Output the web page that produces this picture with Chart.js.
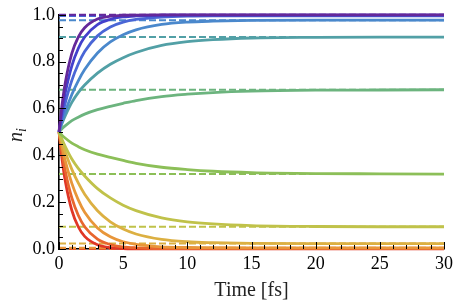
<!DOCTYPE html>
<html>
<head>
<meta charset="utf-8">
<script src="https://cdn.jsdelivr.net/npm/chart.js@4"></script>
<style>
  html, body { margin: 0; padding: 0; background: #fff; }
  #wrap { width: 457px; height: 307px; }
</style>
</head>
<body>
<div id="wrap"><canvas id="popChart"></canvas></div>
<script>
// time grid (fs) and the populations
const times = [0, 0.25, 0.5, 1, 1.5, 2, 3, 4, 5, 6, 8, 10, 12, 15, 20, 25, 30];

const nPurple     = [0.5, 0.621, 0.713, 0.835, 0.905, 0.945, 0.982, 0.994, 0.998, 0.999, 0.9996, 0.9997, 0.9997, 0.9997, 0.9997, 0.9997, 0.9997];
const nDarkBlue   = [0.5, 0.594, 0.670, 0.782, 0.856, 0.905, 0.958, 0.981, 0.991, 0.995, 0.998, 0.9988, 0.9988, 0.9988, 0.9988, 0.9988, 0.9988];
const nBlue       = [0.5, 0.568, 0.626, 0.720, 0.790, 0.843, 0.910, 0.948, 0.969, 0.980, 0.990, 0.994, 0.995, 0.995, 0.995, 0.995, 0.995];
const nSteel      = [0.5, 0.546, 0.588, 0.660, 0.718, 0.766, 0.837, 0.884, 0.915, 0.936, 0.959, 0.969, 0.973, 0.976, 0.977, 0.977, 0.977];
const nTeal       = [0.5, 0.538, 0.570, 0.626, 0.668, 0.700, 0.751, 0.789, 0.817, 0.839, 0.869, 0.885, 0.894, 0.901, 0.904, 0.905, 0.905];
const nGreen      = [0.5, 0.515, 0.527, 0.548, 0.563, 0.576, 0.595, 0.609, 0.622, 0.634, 0.651, 0.661, 0.668, 0.674, 0.678, 0.679, 0.680];
const nLightGreen = [0.5, 0.485, 0.473, 0.452, 0.437, 0.424, 0.405, 0.391, 0.378, 0.366, 0.349, 0.339, 0.332, 0.326, 0.322, 0.321, 0.320];
const nOlive      = [0.5, 0.466, 0.436, 0.384, 0.344, 0.312, 0.258, 0.218, 0.187, 0.164, 0.133, 0.116, 0.107, 0.100, 0.096, 0.095, 0.095];
const nYellow     = [0.5, 0.454, 0.412, 0.340, 0.282, 0.234, 0.163, 0.116, 0.085, 0.064, 0.041, 0.031, 0.027, 0.024, 0.023, 0.023, 0.023];
const nOrange     = [0.5, 0.432, 0.374, 0.280, 0.210, 0.157, 0.090, 0.052, 0.031, 0.020, 0.0095, 0.0064, 0.0054, 0.005, 0.005, 0.005, 0.005];
const nOrangeRed  = [0.5, 0.406, 0.330, 0.218, 0.144, 0.095, 0.042, 0.019, 0.009, 0.005, 0.0018, 0.0013, 0.0012, 0.0012, 0.0012, 0.0012, 0.0012];
const nRed        = [0.5, 0.379, 0.287, 0.165, 0.095, 0.054, 0.018, 0.006, 0.002, 0.001, 0.0004, 0.0003, 0.0003, 0.0003, 0.0003, 0.0003, 0.0003];

// equilibrium values (dashed lines)
const eqLevels = [0.9997, 0.9988, 0.995, 0.977, 0.905, 0.68, 0.32, 0.095, 0.023, 0.005, 0.0012, 0.0003];

const curves = [nPurple, nDarkBlue, nBlue, nSteel, nTeal, nGreen, nLightGreen, nOlive, nYellow, nOrange, nOrangeRed, nRed];
const colors = ["#64289a", "#4340cc", "#4a66d6", "#4a88cc", "#52a0a6", "#6cb47e",
                "#8cbf58", "#c0c24a", "#dcb042", "#e8963a", "#e8662e", "#e03626"];

const xTicks = [0, 5, 10, 15, 20, 25, 30];
const yTicks = [0, 0.2, 0.4, 0.6, 0.8, 1.0];

const datasets = [];
curves.forEach(function (c, i) {
  datasets.push({
    data: times.map(function (t, k) { return { x: t, y: c[k] }; }),
    borderColor: colors[i],
    borderWidth: 2.8,
    pointRadius: 0,
    cubicInterpolationMode: "monotone",
    fill: false,
    order: 0,
    clip: 4,
  });
});
eqLevels.forEach(function (a, i) {
  datasets.push({
    data: [{ x: 0, y: a }, { x: 30, y: a }],
    borderColor: colors[i],
    borderWidth: 2,
    borderDash: [7, 3],
    pointRadius: 0,
    fill: false,
    order: 1,
    clip: 4,
  });
});

// inward frame ticks + y axis label with subscript
const frameTicks = {
  id: "frameTicks",
  afterDraw(chart) {
    const ctx = chart.ctx;
    const xs = chart.scales.x, ys = chart.scales.y;
    const area = chart.chartArea;
    ctx.save();
    ctx.strokeStyle = "#000";
    ctx.lineWidth = 1;
    for (let v = 0; v <= 30; v += 1) {
      const px = Math.round(xs.getPixelForValue(v)) + 0.5;
      const len = v % 5 === 0 ? 7 : 4;
      ctx.beginPath();
      ctx.moveTo(px, area.bottom);
      ctx.lineTo(px, area.bottom - len);
      ctx.stroke();
    }
    for (let k = 0; k <= 20; k++) {
      const py = Math.round(ys.getPixelForValue(k * 0.05)) + 0.5;
      const len = k % 4 === 0 ? 7 : 4;
      ctx.beginPath();
      ctx.moveTo(area.left, py);
      ctx.lineTo(area.left + len, py);
      ctx.stroke();
    }
    // y label
    ctx.fillStyle = "#222";
    ctx.translate(22, (area.top + area.bottom) / 2 + 4);
    ctx.rotate(-Math.PI / 2);
    ctx.font = "italic 20px 'Liberation Serif'";
    ctx.textBaseline = "alphabetic";
    ctx.fillText("n", -6, 0);
    ctx.font = "italic 14px 'Liberation Serif'";
    ctx.fillText("i", 4, 4);
    ctx.restore();
  },
};

new Chart(document.getElementById("popChart").getContext("2d"), {
  type: "line",
  data: { datasets: datasets },
  options: {
    responsive: true,
    maintainAspectRatio: false,
    animation: false,
    layout: { padding: { top: 12, right: 11, left: 0, bottom: 0 } },
    plugins: { legend: { display: false }, tooltip: { enabled: false } },
    scales: {
      x: {
        type: "linear",
        min: 0,
        max: 30,
        afterBuildTicks: function (scale) {
          scale.ticks = xTicks.map(function (v) { return { value: v }; });
        },
        afterFit: function (scale) { scale.height = 58; },
        grid: { display: false, drawTicks: false },
        border: { display: true, color: "#000", width: 1.6 },
        ticks: {
          color: "#000",
          padding: 4,
          font: { family: "'Liberation Serif'", size: 18 },
        },
        title: {
          display: true,
          text: "Time [fs]",
          color: "#222",
          padding: { top: 2 },
          font: { family: "'Liberation Serif'", size: 20 },
        },
      },
      y: {
        min: 0,
        max: 1,
        afterBuildTicks: function (scale) {
          scale.ticks = yTicks.map(function (v) { return { value: v }; });
        },
        afterFit: function (scale) { scale.width = 59; },
        grid: { display: false, drawTicks: false },
        border: { display: true, color: "#000", width: 1.6 },
        ticks: {
          color: "#000",
          padding: 4,
          font: { family: "'Liberation Serif'", size: 18 },
          callback: function (value) { return value.toFixed(1); },
        },
      },
    },
  },
  plugins: [frameTicks],
});
</script>
</body>
</html>
